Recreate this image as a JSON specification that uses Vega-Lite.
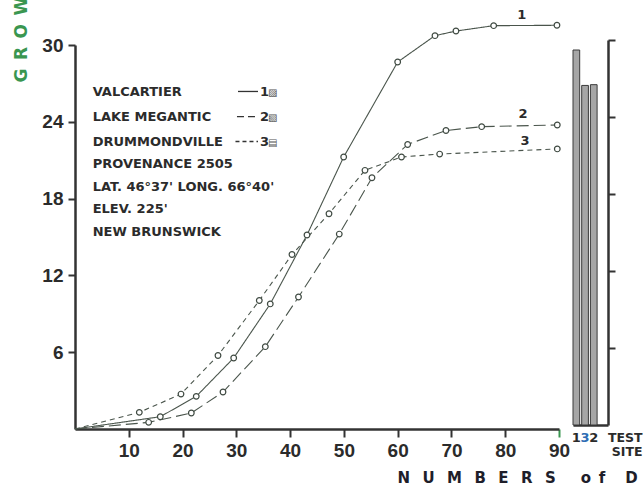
{
  "$schema": "https://vega.github.io/schema/vega-lite/v6.json",
  "width": 484,
  "height": 384,
  "autosize": {"type": "none"},
  "padding": {"left": 75, "top": 45, "right": 84, "bottom": 57},
  "background": "white",
  "config": {"font": "Liberation Sans", "view": {"stroke": null}},
  "datasets": {
    "growth": [
      {"series": "1", "days": 0, "growth": 0},
      {"series": "1", "days": 15.86, "growth": 0.96},
      {"series": "1", "days": 22.55, "growth": 2.55},
      {"series": "1", "days": 29.51, "growth": 5.55},
      {"series": "1", "days": 36.31, "growth": 9.77},
      {"series": "1", "days": 43.14, "growth": 15.16},
      {"series": "1", "days": 49.96, "growth": 21.25},
      {"series": "1", "days": 60.0, "growth": 28.67},
      {"series": "1", "days": 66.94, "growth": 30.73},
      {"series": "1", "days": 70.84, "growth": 31.09},
      {"series": "1", "days": 77.85, "growth": 31.51},
      {"series": "1", "days": 89.62, "growth": 31.54},
      {"series": "2", "days": 0, "growth": 0},
      {"series": "2", "days": 13.7, "growth": 0.52},
      {"series": "2", "days": 21.63, "growth": 1.25},
      {"series": "2", "days": 27.52, "growth": 2.89},
      {"series": "2", "days": 35.39, "growth": 6.43},
      {"series": "2", "days": 41.56, "growth": 10.31},
      {"series": "2", "days": 49.14, "growth": 15.23},
      {"series": "2", "days": 55.22, "growth": 19.63},
      {"series": "2", "days": 61.86, "growth": 22.23},
      {"series": "2", "days": 68.98, "growth": 23.32},
      {"series": "2", "days": 75.62, "growth": 23.62},
      {"series": "2", "days": 89.68, "growth": 23.75},
      {"series": "3", "days": 0, "growth": 0},
      {"series": "3", "days": 11.96, "growth": 1.3},
      {"series": "3", "days": 19.71, "growth": 2.73},
      {"series": "3", "days": 26.59, "growth": 5.74},
      {"series": "3", "days": 34.27, "growth": 10.04},
      {"series": "3", "days": 40.35, "growth": 13.63},
      {"series": "3", "days": 47.23, "growth": 16.82},
      {"series": "3", "days": 53.92, "growth": 20.21},
      {"series": "3", "days": 60.71, "growth": 21.25},
      {"series": "3", "days": 67.81, "growth": 21.48},
      {"series": "3", "days": 89.68, "growth": 21.88}
    ],
    "endLabels": [
      {"label": "1", "days": 83.06, "growth": 32.34},
      {"label": "2", "days": 83.3, "growth": 24.6},
      {"label": "3", "days": 83.7, "growth": 22.5}
    ],
    "site": [
      {"site": "1", "height": 4.87},
      {"site": "3", "height": 4.41},
      {"site": "2", "height": 4.42}
    ]
  },
  "layer": [
    {
      "layer": [
        {
          "data": {"name": "growth"},
          "mark": {"type": "line", "color": "#4a554c", "strokeWidth": 1.1},
          "encoding": {
            "x": {
              "field": "days", "type": "quantitative",
              "scale": {"domain": [0, 90], "nice": false, "zero": false},
              "axis": {
                "values": [10, 20, 30, 40, 50, 60, 70, 80, 90],
                "grid": false, "labelFlush": false,
                "domainColor": "#333333", "domainWidth": 2.5,
                "tickColor": {"condition": {"test": "datum.value === 90", "value": "#3a9650"}, "value": "#333333"},
                "tickWidth": 2, "tickSize": 8,
                "labelFontSize": 19, "labelFontWeight": "bold", "labelColor": "#2b2b2b", "labelPadding": 4,
                "title": "N\u2002\u2004U\u2002\u2004M\u2002\u2004B\u2002\u2004E\u2002\u2004R\u2002\u2004S\u2003\u2002\u2006o\u2002f\u2003\u2004D\u2002\u2004A\u2002\u2004Y\u2002\u2004S",
                "titleFont": "DejaVu Sans", "titleFontSize": 15, "titleFontWeight": "bold", "titleColor": "#1e1e2a",
                "titleX": 322, "titleY": 53, "titleAlign": "left", "titleAnchor": "start", "titleBaseline": "alphabetic"
              }
            },
            "y": {
              "field": "growth", "type": "quantitative",
              "scale": {"domain": [0, 30], "nice": false},
              "axis": {
                "values": [6, 12, 18, 24, 30],
                "grid": false,
                "domainColor": "#333333", "domainWidth": 2.5,
                "tickColor": "#333333", "tickWidth": 2, "tickSize": 7,
                "labelFontSize": 19, "labelFontWeight": "bold", "labelColor": "#2b2b2b", "labelPadding": 5,
                "title": "G\u2002R\u2002O\u2002W\u2002T\u2002H",
                "titleFont": "DejaVu Sans", "titleFontSize": 17, "titleFontWeight": "bold", "titleColor": "#3a9650",
                "titleAngle": 270, "titleX": -54, "titleY": 37, "titleAlign": "left", "titleAnchor": "start", "titleBaseline": "middle"
              }
            },
            "strokeDash": {
              "field": "series", "type": "nominal",
              "scale": {"domain": ["1", "2", "3"], "range": [[1, 0], [12, 5], [5, 4]]},
              "legend": null
            }
          }
        },
        {
          "data": {"name": "growth"},
          "transform": [{"filter": "datum.days > 0"}],
          "mark": {"type": "point", "shape": "circle", "size": 32, "filled": true, "fill": "white", "stroke": "#3f4a42", "strokeWidth": 1.2, "opacity": 1},
          "encoding": {
            "x": {"field": "days", "type": "quantitative"},
            "y": {"field": "growth", "type": "quantitative"}
          }
        },
        {
          "data": {"name": "endLabels"},
          "mark": {"type": "text", "font": "DejaVu Sans", "fontSize": 13, "fontWeight": "bold", "color": "#2b2b2b", "baseline": "middle", "align": "center"},
          "encoding": {
            "x": {"field": "days", "type": "quantitative"},
            "y": {"field": "growth", "type": "quantitative"},
            "text": {"field": "label"}
          }
        },
        {
          "data": {"values": [{}]},
          "mark": {"type": "text", "font": "DejaVu Sans", "align": "left", "baseline": "alphabetic", "fontSize": 13, "fontWeight": "bold", "color": "#2b2b2b", "lineHeight": 25},
          "encoding": {
            "x": {"datum": 3.29},
            "y": {"datum": 26.02},
            "text": {"value": ["VALCARTIER", "LAKE MEGANTIC", "DRUMMONDVILLE"]}
          }
        },
        {
          "data": {"values": [{}]},
          "mark": {"type": "text", "font": "DejaVu Sans", "align": "left", "baseline": "alphabetic", "fontSize": 13, "fontWeight": "bold", "color": "#2b2b2b", "lineHeight": 22.6},
          "encoding": {
            "x": {"datum": 3.29},
            "y": {"datum": 20.37},
            "text": {"value": ["PROVENANCE 2505", "LAT. 46°37' LONG. 66°40'", "ELEV. 225'", "NEW BRUNSWICK"]}
          }
        },
        {
          "data": {"values": [{}]},
          "mark": {"type": "text", "font": "DejaVu Sans", "align": "left", "baseline": "alphabetic", "fontSize": 13, "fontWeight": "bold", "color": "#2b2b2b", "lineHeight": 25},
          "encoding": {
            "x": {"datum": 34.4},
            "y": {"datum": 26.02},
            "text": {"value": ["1", "2", "3"]}
          }
        },
        {
          "data": {"values": [{}]},
          "mark": {"type": "text", "font": "DejaVu Sans", "align": "left", "baseline": "alphabetic", "fontSize": 10, "color": "#555555", "lineHeight": 25},
          "encoding": {
            "x": {"datum": 35.9},
            "y": {"datum": 26.02},
            "text": {"value": ["▨", "▧", "▤"]}
          }
        },
        {
          "data": {"values": [{}]},
          "mark": {"type": "rule", "color": "#333333", "strokeWidth": 1.3},
          "encoding": {"x": {"datum": 30.31}, "x2": {"datum": 34.03}, "y": {"datum": 26.37}}
        },
        {
          "data": {"values": [{}]},
          "mark": {"type": "rule", "color": "#333333", "strokeWidth": 1.3, "strokeDash": [7, 4]},
          "encoding": {"x": {"datum": 30.12}, "x2": {"datum": 33.84}, "y": {"datum": 24.41}}
        },
        {
          "data": {"values": [{}]},
          "mark": {"type": "rule", "color": "#333333", "strokeWidth": 1.3, "strokeDash": [4, 3]},
          "encoding": {"x": {"datum": 29.84}, "x2": {"datum": 34.03}, "y": {"datum": 22.46}}
        }
      ]
    },
    {
      "data": {"name": "site"},
      "mark": {"type": "bar", "fill": "#a6a6a6", "stroke": "#3a3a3a", "strokeWidth": 1},
      "encoding": {
        "x": {
          "field": "site", "type": "nominal", "sort": ["1", "3", "2"],
          "scale": {"type": "band", "domain": ["1", "3", "2"], "range": [498, 533], "paddingInner": 0.23, "paddingOuter": 0.626, "align": 0},
          "axis": {
            "orient": "bottom", "offset": -4, "ticks": false, "tickSize": 0,
            "domainColor": "#333333", "domainWidth": 2.5,
            "labelAngle": 0, "labelFont": "DejaVu Sans", "labelFontSize": 13, "labelFontWeight": "bold",
            "labelColor": {"condition": {"test": "datum.value === '3'", "value": "#2e6db4"}, "value": "#2b2b2b"},
            "labelPadding": 6,
            "title": ["TEST", "SITE"],
            "titleFont": "DejaVu Sans", "titleFontSize": 12.5, "titleFontWeight": "bold", "titleColor": "#2b2b2b",
            "titleX": 567, "titleY": 16, "titleAlign": "right", "titleAnchor": "end", "titleBaseline": "alphabetic", "titleLineHeight": 14
          }
        },
        "y": {
          "field": "height", "type": "quantitative",
          "scale": {"domain": [0, 5], "range": [380, -5], "nice": false},
          "axis": {
            "orient": "right", "offset": 49, "values": [1, 2, 3, 4, 5],
            "labels": false, "title": null, "grid": false,
            "tickSize": 7, "tickWidth": 2, "tickColor": "#333333",
            "domainColor": "#333333", "domainWidth": 2.5
          }
        }
      }
    }
  ],
  "resolve": {"scale": {"x": "independent", "y": "independent"}}
}
